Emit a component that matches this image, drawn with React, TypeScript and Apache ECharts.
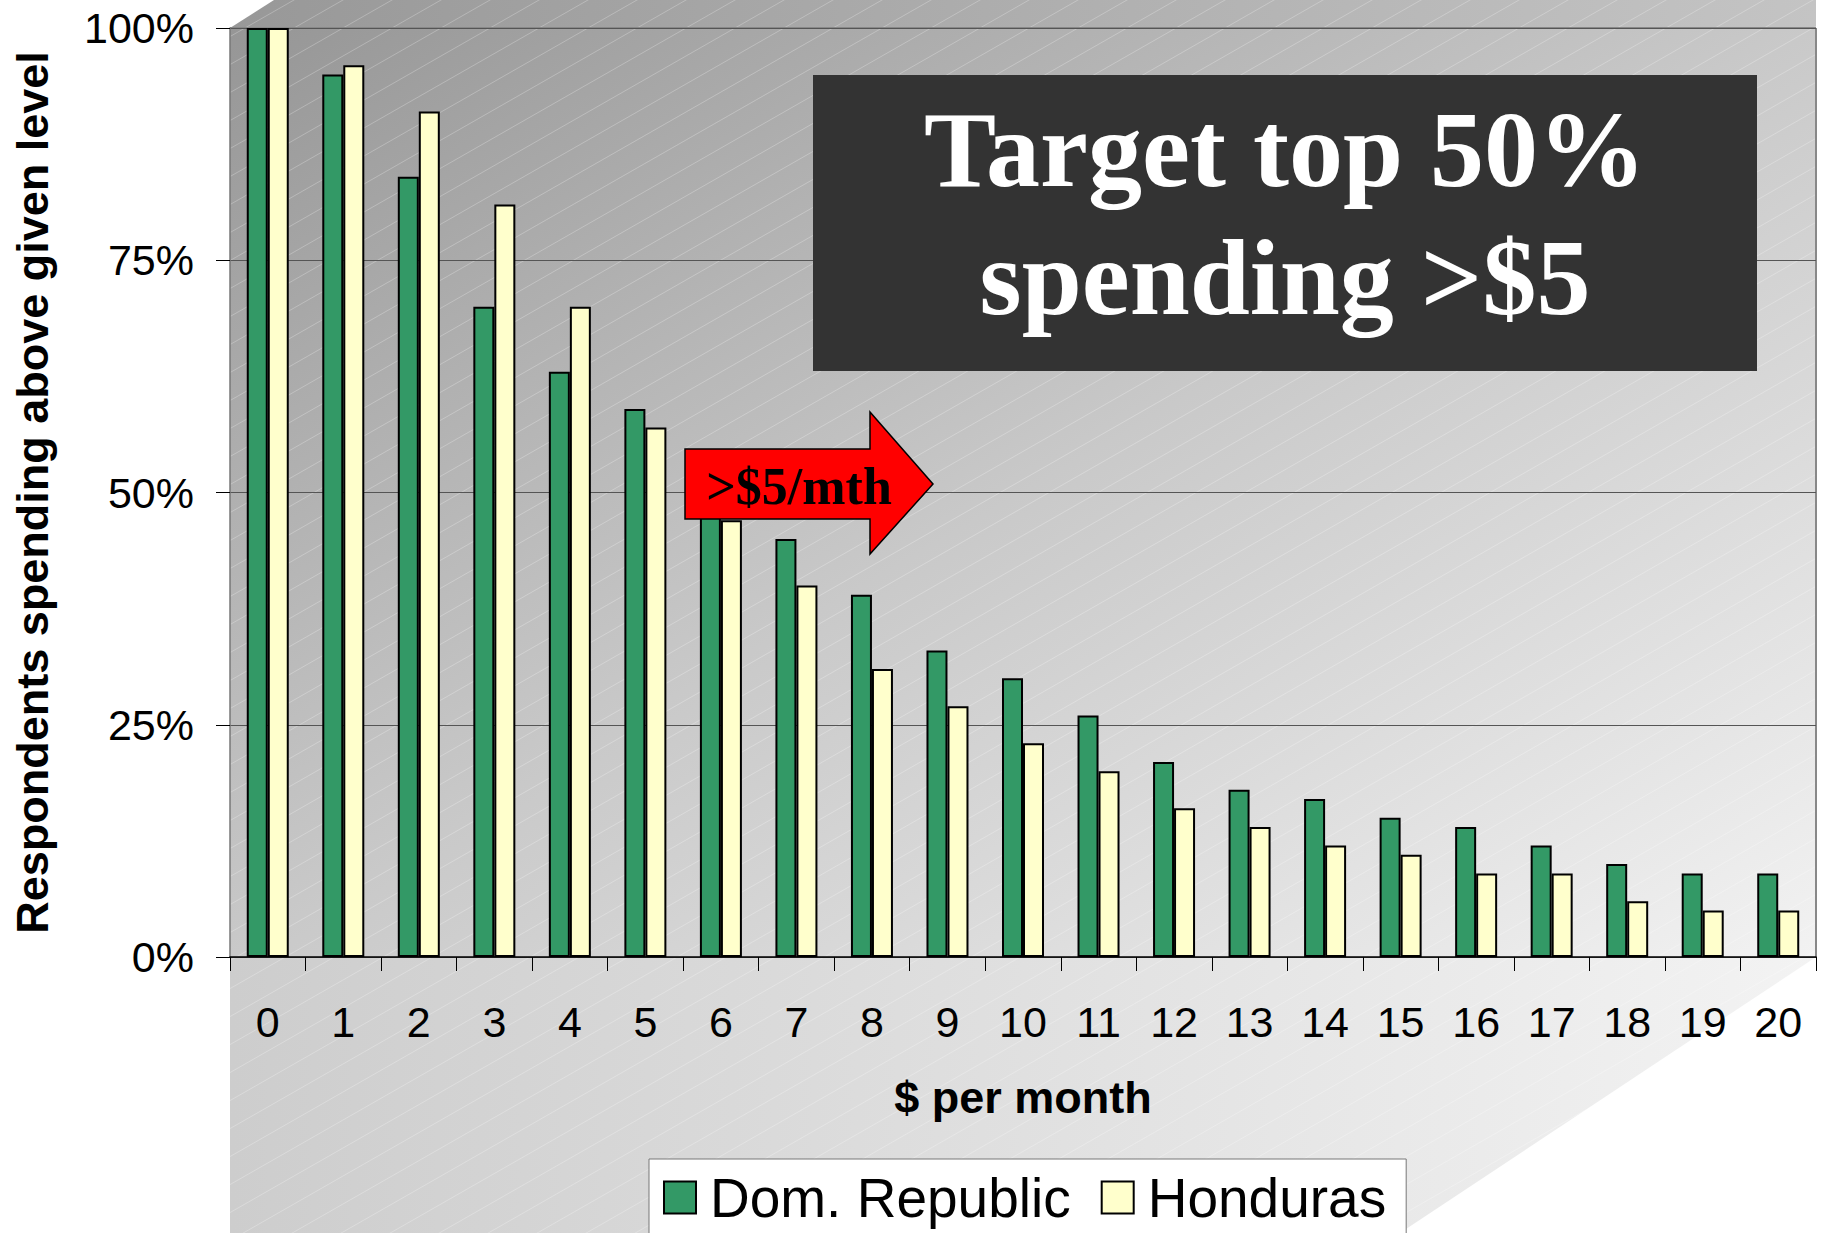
import React, { useEffect, useRef } from 'react';
import * as echarts from 'echarts';

const categories = ['0', '1', '2', '3', '4', '5', '6', '7', '8', '9', '10', '11', '12', '13', '14', '15', '16', '17', '18', '19', '20'];
const domRepublic = [100, 95, 84, 70, 63, 59, 51, 45, 39, 33, 30, 26, 21, 18, 17, 15, 14, 12, 10, 9, 9];
const honduras = [100, 96, 91, 81, 70, 57, 47, 40, 31, 27, 23, 20, 16, 14, 12, 11, 9, 9, 6, 5, 5];
const seriesNames = ['Dom. Republic', 'Honduras'];
const seriesColors = ['#339966', '#FFFFCC'];
const titleLines = ['Target top 50%', 'spending >$5'];
const arrowLabel = '>$5/mth';
const xAxisName = '$ per month';
const yAxisName = 'Respondents spending above given level';

const SANS = '"Liberation Sans", Arial, Helvetica, sans-serif';
const SERIF = '"Liberation Serif", "Times New Roman", serif';

// layout (pixels)
const W = 1830;
const H = 1233;
const PL = 230; // plot left
const PR = 1816; // plot right
const PT = 28; // plot top
const PB = 957; // plot bottom

function makeHatch(): HTMLCanvasElement {
  const c = document.createElement('canvas');
  const tw = 49;
  const th = 28;
  c.width = tw;
  c.height = th;
  const ctx = c.getContext('2d');
  if (ctx) {
    ctx.strokeStyle = 'rgba(255,255,255,0.25)';
    ctx.lineWidth = 1;
    const offs = [[0, 0], [-tw, 0], [tw, 0], [0, -th], [0, th]];
    for (const [dx, dy] of offs) {
      ctx.beginPath();
      ctx.moveTo(dx, th + dy);
      ctx.lineTo(tw + dx, dy);
      ctx.stroke();
    }
  }
  return c;
}

export default function App() {
  const ref = useRef<HTMLDivElement>(null);

  useEffect(() => {
    document.body.style.margin = '0';
    if (!ref.current) return;
    const chart = echarts.init(ref.current, null, { renderer: 'svg' });
    const hatch = makeHatch();
    const hatchFill: any = { image: hatch, repeat: 'repeat', imageWidth: 49, imageHeight: 28 };

    const topFace = [[PL, PT], [PL + 44, 0], [PR, 0], [PR, PT]];
    const floor = [[PL, PB], [PR, PB], [1400, H], [PL, H]];

    const wallGrad = new echarts.graphic.LinearGradient(0, 0, 1, 1, [
      { offset: 0, color: '#969696' },
      { offset: 0.5, color: '#c9c9c9' },
      { offset: 1, color: '#f2f2f2' },
    ]);
    const topGrad = new echarts.graphic.LinearGradient(0, 0, 1, 0, [
      { offset: 0, color: '#989898' },
      { offset: 1, color: '#c4c4c4' },
    ]);
    const floorGrad = new echarts.graphic.LinearGradient(0, 0, 1, 0, [
      { offset: 0, color: '#cdcdcd' },
      { offset: 1, color: '#f3f3f3' },
    ]);

    const arrowBody = { l: 685, t: 449, b: 519, hx: 870, ht: 412, hb: 554, tip: 933 };
    const arrowMid = (arrowBody.t + arrowBody.b) / 2;

    const option: any = {
      animation: false,
      backgroundColor: '#ffffff',
      grid: { left: PL, right: W - PR, top: PT, bottom: H - PB, containLabel: false },
      legend: {
        data: seriesNames,
        left: 649,
        top: 1159,
        orient: 'horizontal',
        itemWidth: 32,
        itemHeight: 32,
        itemGap: 30,
        padding: [11, 20, 40, 14],
        backgroundColor: '#ffffff',
        borderColor: '#777777',
        borderWidth: 1,
        borderRadius: 0,
        icon: 'rect',
        textStyle: { fontSize: 55, color: '#000', fontFamily: SANS, padding: [0, 0, 0, 9] },
      },
      xAxis: {
        type: 'category',
        data: categories,
        name: xAxisName,
        nameLocation: 'middle',
        nameGap: 118,
        nameTextStyle: { fontSize: 45, fontWeight: 'bold', color: '#000', fontFamily: SANS },
        axisLine: { show: true, lineStyle: { color: '#000', width: 1.5 } },
        axisTick: { show: true, length: 14, lineStyle: { color: '#000', width: 1 } },
        axisLabel: { interval: 0, fontSize: 43, color: '#000', margin: 43, fontFamily: SANS },
        splitLine: { show: false },
      },
      yAxis: {
        type: 'value',
        min: 0,
        max: 100,
        interval: 25,
        name: yAxisName,
        nameLocation: 'middle',
        nameGap: 175,
        nameTextStyle: { fontSize: 45, fontWeight: 'bold', color: '#000', fontFamily: SANS },
        axisLine: { show: true, lineStyle: { color: '#777', width: 1.5 } },
        axisTick: { show: true, length: 14, lineStyle: { color: '#000', width: 1 } },
        axisLabel: { formatter: '{value}%', fontSize: 43, color: '#000', margin: 36, fontFamily: SANS },
        splitLine: { show: true, lineStyle: { color: '#555', width: 1.2 } },
      },
      series: [
        {
          name: seriesNames[0],
          type: 'bar',
          data: domRepublic,
          barWidth: 21,
          barGap: '0%',
          z: 2,
          itemStyle: { color: seriesColors[0], borderColor: '#000', borderWidth: 2 },
        },
        {
          name: seriesNames[1],
          type: 'bar',
          data: honduras,
          barWidth: 21,
          barGap: '0%',
          z: 2,
          itemStyle: { color: seriesColors[1], borderColor: '#000', borderWidth: 2 },
        },
      ],
      graphic: [
        { type: 'polygon', z: -10, silent: true, shape: { points: topFace }, style: { fill: topGrad } },
        { type: 'rect', z: -10, silent: true, shape: { x: PL, y: PT, width: PR - PL, height: PB - PT }, style: { fill: wallGrad } },
        { type: 'polygon', z: -10, silent: true, shape: { points: floor }, style: { fill: floorGrad } },
        { type: 'polygon', z: -9, silent: true, shape: { points: topFace }, style: { fill: hatchFill } },
        { type: 'rect', z: -9, silent: true, shape: { x: PL, y: PT, width: PR - PL, height: PB - PT }, style: { fill: hatchFill } },
        { type: 'polygon', z: -9, silent: true, shape: { points: floor }, style: { fill: hatchFill } },
        { type: 'line', z: -8, silent: true, shape: { x1: PR, y1: PT, x2: PR, y2: PB }, style: { stroke: '#888', lineWidth: 2 } },
        { type: 'line', z: -8, silent: true, shape: { x1: PL, y1: PT, x2: PR, y2: PT }, style: { stroke: '#888', lineWidth: 2 } },
        { type: 'rect', z: 50, silent: true, shape: { x: 813, y: 75, width: 944, height: 296 }, style: { fill: '#333333' } },
        {
          type: 'text', z: 51, silent: true, x: 1285, y: 149,
          style: { text: titleLines[0], fill: '#ffffff', font: `bold 108px ${SERIF}`, align: 'center', verticalAlign: 'middle' },
        },
        {
          type: 'text', z: 51, silent: true, x: 1285, y: 277,
          style: { text: titleLines[1], fill: '#ffffff', font: `bold 108px ${SERIF}`, align: 'center', verticalAlign: 'middle' },
        },
        {
          type: 'polygon', z: 50, silent: true,
          shape: {
            points: [
              [arrowBody.l, arrowBody.t], [arrowBody.hx, arrowBody.t], [arrowBody.hx, arrowBody.ht],
              [arrowBody.tip, arrowMid], [arrowBody.hx, arrowBody.hb], [arrowBody.hx, arrowBody.b], [arrowBody.l, arrowBody.b],
            ],
          },
          style: { fill: '#ff0000', stroke: '#000', lineWidth: 1.5 },
        },
        {
          type: 'text', z: 51, silent: true, x: 799, y: 486,
          style: { text: arrowLabel, fill: '#000', font: `bold 52px ${SERIF}`, align: 'center', verticalAlign: 'middle' },
        },
      ],
    };

    chart.setOption(option);
    return () => chart.dispose();
  }, []);

  return <div ref={ref} style={{ width: W, height: H }} />;
}
